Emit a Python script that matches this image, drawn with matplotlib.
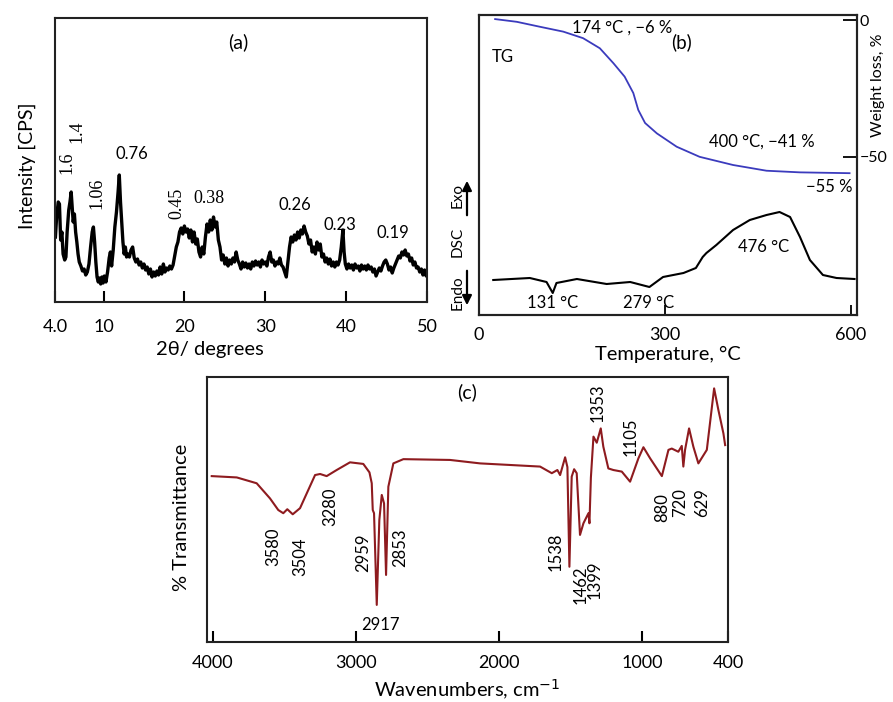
import numpy as np
import matplotlib
matplotlib.use("Agg")
import matplotlib.pyplot as plt

plt.rcParams['font.family'] = ['Lato', 'DejaVu Sans']
plt.rcParams['axes.unicode_minus'] = True

# ---- (a) XRD pattern ----
xrd_2theta = [4.05, 4.2, 4.4, 4.55, 4.7, 4.85, 5.0, 5.2, 5.35, 5.5, 5.7, 5.85, 6.0, 6.1, 6.25,
              6.4, 6.55, 6.7, 6.85, 7.0, 7.2, 7.4, 7.6, 7.8, 8.0, 8.2, 8.4, 8.6, 8.75, 8.9,
              9.05, 9.2, 9.35, 9.5, 9.65, 9.8, 9.95, 10.1, 10.3, 10.5, 10.7, 10.85, 11.0, 11.2,
              11.4, 11.6, 11.8, 11.95, 12.1, 12.25, 12.4, 12.55, 12.7, 12.85, 13.0, 13.2, 13.4,
              13.6, 13.8, 14.0, 14.2, 14.4, 14.6, 14.8, 15.0, 15.2, 15.4, 15.6, 15.8, 16.0, 16.2,
              16.4, 16.6, 16.8, 17.0, 17.2, 17.4, 17.6, 17.8, 18.0, 18.2, 18.4, 18.6, 18.8, 19.0,
              19.2, 19.4, 19.6, 19.8, 20.0, 20.2, 20.4, 20.6, 20.8, 21.0, 21.2, 21.4, 21.6, 21.8,
              22.0, 22.2, 22.4, 22.6, 22.8, 23.0, 23.2, 23.4, 23.6, 23.8, 24.0, 24.2, 24.4, 24.6,
              24.8, 25.0, 25.2, 25.4, 25.6, 25.8, 26.0, 26.2, 26.4, 26.6, 26.8, 27.0, 27.2, 27.4,
              27.6, 27.8, 28.0, 28.2, 28.4, 28.6, 28.8, 29.0, 29.2, 29.4, 29.6, 29.8, 30.0, 30.2,
              30.4, 30.6, 30.8, 31.0, 31.2, 31.4, 31.6, 31.8, 32.0, 32.2, 32.4, 32.6, 32.8, 33.0,
              33.2, 33.4, 33.6, 33.8, 34.0, 34.2, 34.4, 34.6, 34.8, 35.0, 35.2, 35.4, 35.6, 35.8,
              36.0, 36.2, 36.4, 36.6, 36.8, 37.0, 37.2, 37.4, 37.6, 37.8, 38.0, 38.2, 38.4, 38.6,
              38.8, 39.0, 39.2, 39.4, 39.6, 39.75, 39.9, 40.1, 40.3, 40.5, 40.7, 40.9, 41.1, 41.3,
              41.5, 41.7, 41.9, 42.1, 42.3, 42.5, 42.7, 42.9, 43.1, 43.3, 43.5, 43.7, 43.9, 44.1,
              44.3, 44.5, 44.7, 44.9, 45.1, 45.3, 45.5, 45.7, 45.9, 46.1, 46.3, 46.5, 46.7, 46.9,
              47.1, 47.3, 47.5, 47.7, 47.9, 48.1, 48.3, 48.5, 48.7, 48.9, 49.1, 49.3, 49.5, 49.7,
              49.9, 50.0]
xrd_cps = [65, 85, 100, 98, 62, 70, 48, 42, 45, 70, 92, 100, 110, 98, 80,
           88, 70, 60, 48, 40, 36, 31, 33, 27, 30, 38, 55, 70, 75, 60,
           40, 25, 20, 24, 18, 25, 19, 26, 20, 30, 44, 50, 36, 52,
           75, 90, 110, 127, 100, 80, 60, 48, 55, 45, 48, 45, 52,
           55, 44, 40, 43, 37, 40, 34, 38, 32, 35, 28, 33, 25, 30,
           26, 31, 27, 35, 28, 38, 30, 34, 32, 36, 33, 37, 46, 55,
           60, 70, 74, 68, 76, 70, 73, 64, 72, 60, 70, 58, 63, 50,
           45, 55, 48, 65, 78, 70, 82, 72, 85, 75, 80, 62, 55, 42,
           47, 38, 44, 36, 42, 38, 44, 40, 50, 42, 38, 33, 40, 35,
           39, 34, 38, 33, 40, 36, 41, 37, 40, 35, 42, 38, 40, 36,
           45, 50, 40, 42, 36, 40, 38, 44, 37, 35, 30, 25, 40, 55,
           65, 60, 67, 62, 70, 64, 72, 68, 76, 70, 66, 58, 62, 50,
           55, 48, 60, 52, 58, 45, 48, 40, 44, 38, 43, 36, 40, 35,
           40, 37, 42, 55, 72, 50, 38, 33, 38, 34, 37, 32, 38, 34,
           36, 31, 37, 33, 36, 32, 37, 33, 35, 30, 33, 26, 30, 34,
           31, 36, 40, 42, 38, 32, 35, 29, 34, 38, 42, 46, 44, 50,
           47, 52, 46, 48, 41, 44, 37, 40, 34, 35, 30, 33, 27, 32,
           26, 30]
xrd_ticks = [4, 10, 20, 30, 40, 50]
xrd_ticklabels = ['4.0', '10', '20', '30', '40', '50']
d_labels = ['1.6', '1.4', '1.06', '0.76', '0.45', '0.38', '0.26', '0.23', '0.19']
d_x = [5.5, 6.7, 9.2, 13.5, 19.1, 23.0, 33.7, 39.2, 45.8]
d_y = [139, 170, 109, 148, 99, 103, 97, 77, 69]
d_rot = [90, 90, 90, 0, 90, 0, 0, 0, 0]
d_serif = [True, True, True, False, True, True, False, False, False]

# ---- (b) TG / DSC ----
tg_temp = [26, 61, 98, 136, 168, 195, 217, 235, 249, 257, 268, 287, 319, 356, 410, 464, 518, 598]
tg_loss = [0.5, -0.5, -2.3, -4.1, -6.5, -10.2, -15.7, -20.6, -26.6, -32.8, -37.6, -41.4,
           -46.3, -50.0, -53.0, -55.1, -55.7, -56.0]
dsc_temp = [23, 82, 109, 119, 125, 158, 206, 244, 275, 297, 330, 350, 361, 367, 383, 410,
            437, 464, 485, 502, 518, 534, 555, 577, 606]
dsc_sig = [35, 37, 33, 22, 32, 36, 31, 33, 28, 38, 42, 47, 58, 62, 70, 85,
           95, 100, 103, 98, 78, 55, 40, 37, 36]

# ---- (c) FTIR ----
ir_wn = [4007, 3832, 3693, 3600, 3542, 3507, 3479, 3441, 3390, 3343, 3285, 3250, 3204, 3134,
         3041, 2948, 2905, 2889, 2882, 2873, 2854, 2836, 2819, 2803, 2789, 2773, 2738, 2668,
         2342, 2132, 1713, 1631, 1592, 1573, 1538, 1522, 1508, 1492, 1475, 1457, 1434, 1410,
         1375, 1368, 1358, 1340, 1317, 1289, 1271, 1236, 1201, 1142, 1084, 1026, 991, 944,
         862, 816, 793, 747, 723, 712, 700, 672, 642, 607, 548, 497, 467, 432, 420]
ir_trans = [62.6, 62.1, 59.9, 54.2, 49.8, 48.6, 50.1, 48.2, 50.5, 56.1, 63.0, 63.4, 62.6, 64.9,
            67.8, 67.2, 64.0, 59.9, 49.8, 48.6, 14.0, 46.0, 55.5, 52.3, 25.3, 58.6, 67.4, 69.0,
            68.7, 67.4, 66.2, 63.7, 64.9, 63.0, 69.7, 66.0, 28.4, 62.4, 65.2, 63.7, 40.4, 44.8,
            48.6, 44.8, 62.0, 77.5, 75.2, 80.6, 73.7, 65.5, 64.9, 64.3, 60.5, 69.3, 73.5, 69.3,
            62.6, 72.5, 73.0, 71.8, 74.0, 66.2, 72.5, 80.6, 73.7, 67.4, 72.5, 95.7, 87.5, 78.7, 74.3]
ir_labels = ['3580', '3504', '3280', '2959', '2853', '2917', '1538', '1462', '1399',
             '1353', '1105', '880', '720', '629']
ir_lx = [3579, 3390, 3180, 2950, 2691, 2831, 1608, 1433, 1329, 1308, 1084, 860, 735, 581]
ir_ly = [35.8, 32.1, 50.9, 33.6, 35.5, 6.4, 34.0, 21.5, 23.4, 90.2, 77.4, 50.9, 52.5, 52.5]
ir_rot = [90, 90, 90, 90, 90, 0, 90, 90, 90, 90, 90, 90, 90, 90]

W, H = 893, 702
fig = plt.figure(figsize=(W / 100, H / 100), dpi=100)


def box(x0, y0, x1, y1):
    return [x0 / W, 1 - y1 / H, (x1 - x0) / W, (y1 - y0) / H]


def style_spines(ax):
    for s in ax.spines.values():
        s.set_linewidth(1.5)
        s.set_color('#222222')


# (a)
ax_a = fig.add_axes(box(55, 18, 427, 302))
ax_a.plot(xrd_2theta, xrd_cps, color='black', lw=2.4)
ax_a.set_xlim(4, 50)
ax_a.set_ylim(0, 284)
ax_a.set_xticks(xrd_ticks)
ax_a.set_xticklabels(xrd_ticklabels)
ax_a.set_yticks([])
ax_a.tick_params(axis='x', direction='in', length=8, width=1.5, pad=12, labelsize=13)
style_spines(ax_a)
ax_a.set_ylabel('Intensity [CPS]', fontsize=14, va='center')
ax_a.yaxis.set_label_coords(-0.075, 0.48)
ax_a.set_xlabel('2θ/ degrees', fontsize=14.5, va='center')
ax_a.xaxis.set_label_coords(0.417, -0.169)
ax_a.text(26.7, 260, '(a)', fontsize=14, ha='center', va='center')
for lab, x, y, r, sf in zip(d_labels, d_x, d_y, d_rot, d_serif):
    fam = ['Liberation Serif'] if sf else ['Lato', 'DejaVu Sans']
    ax_a.text(x, y, lab, rotation=r, ha='center', va='center', fontsize=13 if sf else 12,
              family=fam)

# (b)
ax_b = fig.add_axes(box(479, 15, 857, 315))
ax_b.plot(dsc_temp, dsc_sig, color='black', lw=1.5)
ax_b.set_xlim(0, 610)
ax_b.set_ylim(0, 300)
ax_b.set_yticks([])
ax_b.set_xticks([0, 300, 600])
ax_b.tick_params(axis='x', direction='in', length=7, width=1.3, pad=9, labelsize=13)
style_spines(ax_b)
ax_b.set_xlabel('Temperature, °C', fontsize=14.5, va='center')
ax_b.xaxis.set_label_coords(0.5, -0.133)
ax_tg = ax_b.twinx()
ax_tg.plot(tg_temp, tg_loss, color='#3b3bbd', lw=1.3)
ax_tg.set_ylim(-108, 2)
ax_tg.set_yticks([0, -50])
ax_tg.tick_params(axis='y', direction='in', length=10, width=1.3, pad=2, labelsize=11.5)
style_spines(ax_tg)
ax_tg.set_ylabel('Weight loss, %', fontsize=11.5, va='center')
ax_tg.yaxis.set_label_coords(1.056, 0.767)
b_notes = [('174 °C , −6 %', 231, -2.8), ('(b)', 327, -7.9), ('TG', 39, -13.4),
           ('400 °C, −41 %', 456, -44.6), ('−55 %', 566, -61), ('476 °C', 460, -83),
           ('131 °C', 118, -103.6), ('279 °C', 273, -103.6)]
for lab, x, y in b_notes:
    ax_tg.text(x, y, lab, fontsize=13.5 if lab == '(b)' else 12, ha='center', va='center')

# DSC Endo/Exo side label
fig.text(458 / W, 1 - 195 / H, 'Exo', rotation=90, ha='center', va='center', fontsize=11)
fig.text(458 / W, 1 - 242 / H, 'DSC', rotation=90, ha='center', va='center', fontsize=11)
fig.text(458 / W, 1 - 293 / H, 'Endo', rotation=90, ha='center', va='center', fontsize=11)
fig.add_artist(matplotlib.patches.FancyArrowPatch(
    (467 / W, 1 - 218 / H), (467 / W, 1 - 178 / H), transform=fig.transFigure,
    arrowstyle='-|>', mutation_scale=14, lw=1.6, color='black'))
fig.add_artist(matplotlib.patches.FancyArrowPatch(
    (467 / W, 1 - 268 / H), (467 / W, 1 - 308 / H), transform=fig.transFigure,
    arrowstyle='-|>', mutation_scale=14, lw=1.6, color='black'))

# (c)
ax_c = fig.add_axes(box(207, 377, 728, 642))
ax_c.plot(ir_wn, ir_trans, color='#8e1b1f', lw=1.5)
ax_c.set_xlim(4040, 400)
ax_c.set_ylim(0, 100)
ax_c.set_yticks([])
ax_c.set_xticks([4000, 3000, 2000, 1000, 400])
ax_c.tick_params(axis='x', direction='in', length=8, width=1.5, pad=9, labelsize=13)
style_spines(ax_c)
ax_c.set_xlabel('Wavenumbers, cm$^{-1}$', fontsize=14.5, va='center')
ax_c.xaxis.set_label_coords(0.499, -0.181)
ax_c.set_ylabel('% Transmittance', fontsize=14.5, va='center')
ax_c.yaxis.set_label_coords(-0.048, 0.47)
ax_c.text(2223, 94.3, '(c)', fontsize=14, ha='center', va='center')
for lab, x, y, r in zip(ir_labels, ir_lx, ir_ly, ir_rot):
    ax_c.text(x, y, lab, rotation=r, ha='center', va='center', fontsize=12)

fig.savefig('out.png', dpi=100)
